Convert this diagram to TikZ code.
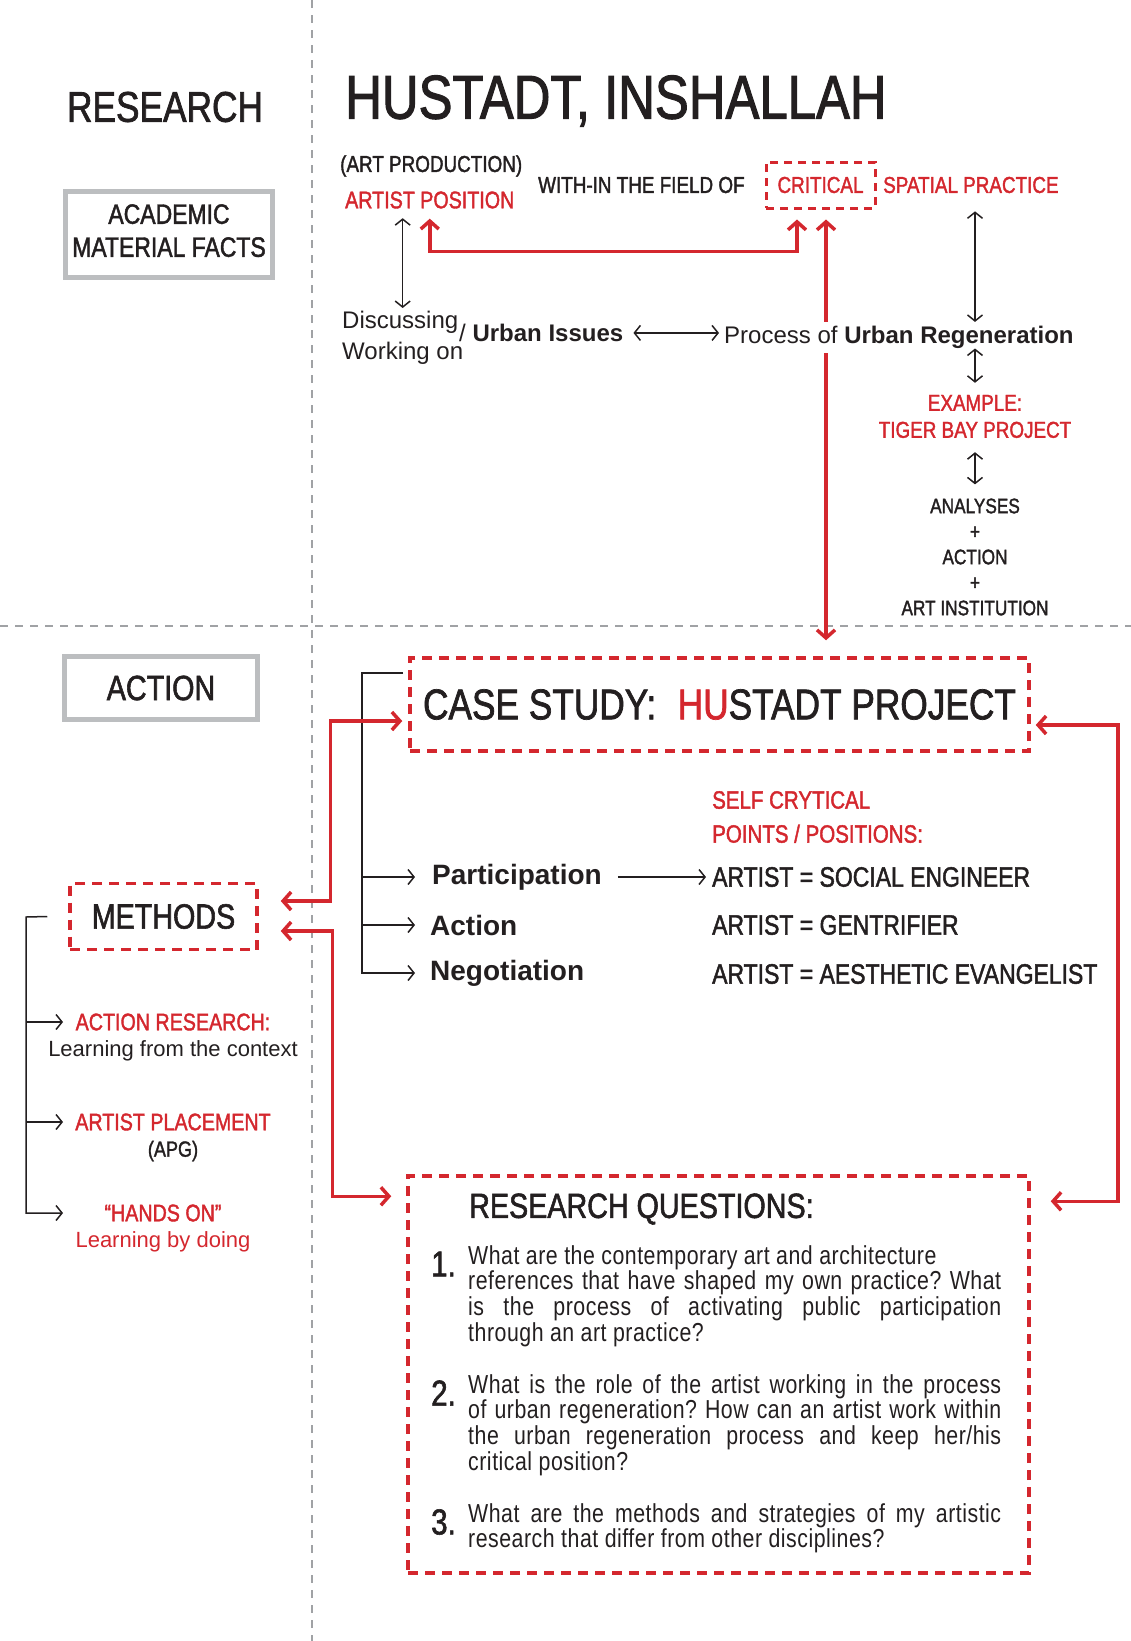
\documentclass[tikz,border=0pt]{standalone}
\usepackage{fontspec}
\setmainfont{Liberation Sans}[FakeStretch=0.82, FakeBold=1.6]
\newfontfamily\widefont{Liberation Sans}
\newfontfamily\qfont{Liberation Sans}[FakeStretch=0.82, LetterSpace=2]
\usepackage{xcolor}
\usepackage{tikz}
\usetikzlibrary{arrows.meta}
\usetikzlibrary{positioning}

\definecolor{ink}{RGB}{35,31,32}
\definecolor{hured}{RGB}{212,39,46}
\definecolor{framegray}{RGB}{188,190,192}
\definecolor{rulegray}{RGB}{160,162,165}

\newcommand{\fs}[2]{\fontsize{#1}{#2}\selectfont}
\frenchspacing

\tikzset{
 txt/.style={inner sep=0pt, text=ink},
 redtxt/.style={inner sep=0pt, text=hured},
 graybox/.style={draw=framegray, line width=5pt, inner sep=0pt, text=ink},
 redbox/.style={draw=hured, line width=3.5pt, dash pattern=on 10pt off 7pt, inner sep=0pt},
 divider/.style={draw=rulegray, line width=1.5pt, dash pattern=on 8pt off 7pt},
 thinarrow/.style={draw=ink, line width=1.5pt, -{Straight Barb[length=6pt,width=15pt]}},
 biarrow/.style={draw=ink, line width=1.5pt, {Straight Barb[length=6pt,width=15pt]}-{Straight Barb[length=6pt,width=15pt]}},
 redarrow/.style={draw=hured, line width=3.5pt, {Straight Barb[length=8pt,width=18pt]}-{Straight Barb[length=8pt,width=18pt]}},
}

\begin{document}
\begin{tikzpicture}[x=1pt, y=-1pt]
 \useasboundingbox (0,0) rectangle (1131,1641);
 \draw [divider] (312,0) -- (312,1641);
 \draw [divider] (0,626) -- (1131,626);

 \node [txt, font=\fs{43}{50}] (research) at (165,107) {RESEARCH};
 \node [txt, font=\fs{62}{70}, anchor=west] (title) at (345,101) {HUSTADT, INSHALLAH};
 \node [graybox, font=\fs{28}{33}, minimum width=207pt, minimum height=86pt, align=center, text depth=8pt] (facts) at (169,234.5) {ACADEMIC\\MATERIAL FACTS};

 \node [txt, font=\fs{23}{28}, anchor=west] (artprod) at (340,166) {(ART PRODUCTION)};
 \node [redtxt, font=\fs{24}{28}, anchor=west] (artpos) at (345,200) {ARTIST POSITION};
 \node [txt, font=\fs{23}{28}, anchor=west] (within) at (538,185) {WITH-IN THE FIELD OF};
 \node [redbox, text=hured, font=\fs{23}{28}, dash pattern=on 8pt off 6pt, line width=3pt, minimum width=109pt, minimum height=46pt] (critical) at (820.5,185) {CRITICAL};
 \node [redtxt, font=\fs{23}{28}, anchor=west] (spatial) at (883,185) {SPATIAL PRACTICE};

 \node [txt, font=\widefont\fs{24}{31}, align=left, anchor=north west] (disc) at (342,311) {Discussing\\Working on};
 \node [txt, font=\widefont\fs{24}{29}, anchor=base west] (issues) at (459,341.5) {/ \textbf{Urban Issues}};

 \node [redbox, text=ink, font=\fs{43}{50}, minimum width=619pt, minimum height=93pt] (casestudy) at (719.5,704.5) {CASE STUDY:\enspace{\color{hured}HU}STADT PROJECT};

 \draw [redarrow, shorten <=10pt, shorten >=10pt] (artpos.south) -- ++(0,43) -| ([xshift=-23.5pt]critical.south);
 \draw [redarrow, shorten <=10pt, shorten >=16pt] ([xshift=5.5pt]critical.south) -- ([xshift=5.5pt]critical.south |- casestudy.north);

 \node [txt, fill=white, inner xsep=1pt, inner ysep=4pt, font=\widefont\fs{24}{29}, anchor=base west] (process) at (723,343.5) {Process of \textbf{Urban Regeneration}};
 \node [redtxt, font=\fs{23}{27}, align=center] (example) at (975,416.5) {EXAMPLE:\\TIGER BAY PROJECT};
 \node [txt, font=\fs{21}{25.5}, align=center] (analyses) at (975,557) {ANALYSES\\+\\ACTION\\+\\ART INSTITUTION};

 \draw [biarrow, shorten <=9.5pt, shorten >=3pt] (artpos.south -| disc) -- (disc.north);
 \draw [biarrow, shorten <=10pt, shorten >=4pt] (issues.east) -- (process.west |- issues.east);
 \draw [biarrow, shorten <=18pt] (spatial.south -| example) -- (process.north -| example);
 \draw [biarrow, shorten <=5pt, shorten >=12pt] (process.base -| example) -- (example.north);
 \draw [biarrow, shorten <=14pt, shorten >=14pt] (example.south) -- (analyses.north);

 \node [graybox, font=\fs{35}{40}, minimum width=193pt, minimum height=63pt] (actionbox) at (161,688) {ACTION};
 \node [redbox, text=ink, font=\fs{35}{40}, minimum width=187pt, minimum height=66pt] (methods) at (163.5,916.5) {METHODS};
 \node [redbox, minimum width=621pt, minimum height=397pt] (questions) at (718.5,1374.5) {};

 \coordinate (rstub) at (403,673);
 \coordinate (rspine) at (362,673);
 \node [txt, font=\widefont\bfseries\fs{28}{32}, anchor=west] (participation) at (432,877) {Participation};
 \node [txt, font=\widefont\bfseries\fs{28}{32}, anchor=west] (actionitem) at (430,925) {Action};
 \node [txt, font=\widefont\bfseries\fs{28}{32}, anchor=west] (negotiation) at (430,973) {Negotiation};
 \draw [thinarrow, shorten >=15pt] (rstub) -- (rspine) |- (negotiation.west);
 \draw [thinarrow, shorten >=17pt] (rspine |- participation.west) -- (participation.west);
 \draw [thinarrow, shorten >=15pt] (rspine |- actionitem.west) -- (actionitem.west);

 \node [redtxt, font=\fs{25}{34}, align=left, anchor=west] (selfcrit) at (712,817) {SELF CRYTICAL\\POINTS / POSITIONS:};
 \node [txt, font=\fs{28}{32}, anchor=west] (artist1) at (712,877) {ARTIST = SOCIAL ENGINEER};
 \node [txt, font=\fs{28}{32}, anchor=west] (artist2) at (712,925) {ARTIST = GENTRIFIER};
 \node [txt, font=\fs{28}{32}, anchor=west] (artist3) at (712,974) {ARTIST = AESTHETIC EVANGELIST};
 \draw [thinarrow, shorten <=16pt, shorten >=6pt] (participation.east) -- (artist1.west |- participation.east);

 \draw [redarrow, shorten <=22pt, shorten >=6pt] ([yshift=15.5pt]methods.east) -| ([xshift=-78pt,yshift=-16.5pt]casestudy.west) -- ([yshift=-16.5pt]casestudy.west);
 \draw [redarrow, shorten <=22pt, shorten >=15pt] ([yshift=-14.5pt]methods.east) -| ([xshift=-74pt,yshift=-22pt]questions.north west) -- ([yshift=-22pt]questions.north west);
 \draw [redarrow, shorten <=5pt, shorten >=20pt] ([yshift=-20.5pt]casestudy.east) -| ([xshift=87pt,yshift=-27pt]questions.north east) -- ([yshift=-27pt]questions.north east);

 \coordinate (lspine) at (26,917);
 \coordinate (ltips) at (63,0);
 \node [redtxt, font=\fs{24}{28}] (actres) at (173,1022) {ACTION RESEARCH:};
 \node [txt, font=\widefont\fs{22}{26}] (context) at (173,1051) {Learning from the context};
 \node [redtxt, font=\fs{24}{28}] (placement) at (173,1122) {ARTIST PLACEMENT};
 \node [txt, font=\fs{22}{26}] (apg) at (173,1151) {(APG)};
 \node [redtxt, font=\fs{24}{28}] (handson) at (163,1213) {“HANDS ON”};
 \node [redtxt, font=\widefont\fs{22}{26}] (doing) at (163,1242) {Learning by doing};
 \draw [thinarrow] ([xshift=-21pt]methods.west) -- (lspine) |- (ltips |- handson);
 \draw [thinarrow] (lspine |- actres) -- (ltips |- actres);
 \draw [thinarrow] (lspine |- placement) -- (ltips |- placement);

 \node [txt, font=\fs{35}{40}, anchor=west] (rqtitle) at (469,1209) {RESEARCH QUESTIONS:};
 \node [txt, font=\fs{36}{40}, anchor=west] (num1) at (431,1264) {1.};
 \node [txt, font=\fs{36}{40}, anchor=west] (num2) at (431,1393) {2.};
 \node [txt, font=\fs{36}{40}, anchor=west] (num3) at (431,1522) {3.};
 \node [txt, font=\qfont\fs{26}{25.8}, text width=533pt, align=justify, anchor=north west] (q1) at (468,1245) {What are the contemporary art and architecture\\references that have shaped my own practice? What\linebreak is the process of activating public participation\linebreak through an art practice?};
 \node [txt, font=\qfont\fs{26}{25.8}, text width=533pt, align=justify, anchor=north west] (q2) at (468,1374) {What is the role of the artist working in the process\linebreak of urban regeneration? How can an artist work within\linebreak the urban regeneration process and keep her/his\linebreak critical position?};
 \node [txt, font=\qfont\fs{26}{25.8}, text width=533pt, align=justify, anchor=north west] (q3) at (468,1503) {What are the methods and strategies of my artistic\linebreak research that differ from other disciplines?};
\end{tikzpicture}
\end{document}
